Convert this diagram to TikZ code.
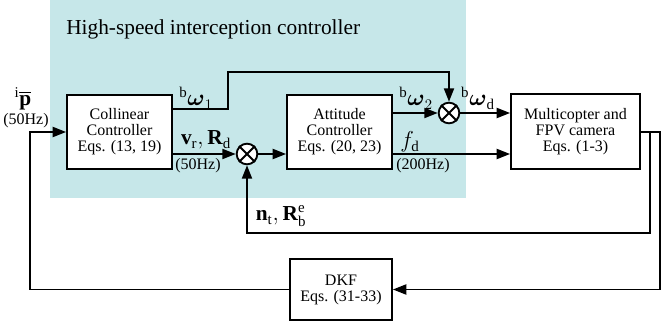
\documentclass[tikz,border=0pt]{standalone}
\usepackage{amsmath}
\usepackage{amssymb}
\usepackage{fontspec}
\setmainfont{Liberation Serif}
\usetikzlibrary{arrows.meta}
\definecolor{ctrlbg}{RGB}{198,231,233}

\tikzset{
  block/.style={draw, line width=1.4pt, fill=white, align=center, inner sep=0pt,
    font=\fontsize{12}{12}\selectfont},
  sumnode/.style={circle, draw, line width=1.4pt, fill=white, minimum size=15.5pt, inner sep=0pt},
  wire/.style={line width=1.4pt},
  sig/.style={-{Triangle[length=10pt, width=7.5pt]}},
  lbl/.style={inner sep=0pt, font=\fontsize{16}{16}\selectfont},
  rate/.style={inner sep=0pt, font=\fontsize{12}{12}\selectfont},
}

\begin{document}
\begin{tikzpicture}[x=0.75pt, y=-0.75pt]
  \useasboundingbox (0,0) rectangle (672,324);
  % controller background
  \fill[ctrlbg] (50,0) rectangle (466,198);
  \node[anchor=west, inner sep=0pt, font=\fontsize{16}{16}\selectfont] (title) at (66,29) {High-speed interception controller};

  % blocks
  \node[block, minimum width=78.75pt, minimum height=55.5pt] (coll) at (119.5,132) {Collinear\\Controller\\Eqs. (13, 19)};
  \node[block, minimum width=78.75pt, minimum height=55.5pt] (att) at (339.5,132) {Attitude\\Controller\\Eqs. (20, 23)};
  \node[block, minimum width=96.75pt, minimum height=56.25pt] (multi) at (575.5,131.5) {Multicopter and\\FPV camera\\Eqs. (1-3)};
  \node[block, minimum width=76.5pt, minimum height=45.75pt] (dkf) at (341,289.5) {DKF\\Eqs. (31-33)};

  % summing junctions
  \node[sumnode] (sum1) at (247,154) {};
  \node[sumnode] (sum2) at (449,113) {};
  \foreach \s in {sum1,sum2}
    \draw[line width=1.4pt] (\s.north west) -- (\s.south east) (\s.north east) -- (\s.south west);

  % bend points
  \coordinate (up1) at (228,109);
  \coordinate (up2) at (228,72);
  \coordinate (fb1) at (650,233);
  \coordinate (fb2) at (660,289.5);
  \coordinate (fb3) at (30,289.5);
  \coordinate (out) at (640,132);

  % connectors
  \draw[wire, sig] (coll.east |- up1) -- (up1) -- (up2) -| (sum2.north);
  \draw[wire, sig] (coll.east |- sum1) -- (sum1.west);
  \draw[wire, sig] (sum1.east) -- (att.west |- sum1);
  \draw[wire, sig] (att.east |- sum2) -- (sum2.west);
  \draw[wire, sig] (sum2.east) -- (multi.west |- sum2);
  \draw[wire, sig] (att.east |- sum1) -- (multi.west |- sum1);
  \draw[wire, sig] (out) -| (fb1) -| (sum1.south);
  \draw[wire, sig] (out) -| (fb2) -- (dkf.east);
  \draw[wire, sig] (dkf.west) -- (fb3) |- (coll.west);

  % signal labels
  \node[lbl] (pbar) at (23,99) {${}^{\mathrm{i}}\overline{\mathbf{p}}$};
  \node[rate] (r1) at (26,121) {(50Hz)};
  \node[lbl] (w1) at (196,98) {${}^{\mathrm{b}}\boldsymbol{\omega}_{1}$};
  \node[lbl] (vr) at (206,140) {$\mathbf{v}_{\mathrm{r}},\mathbf{R}_{\mathrm{d}}$};
  \node[rate] (r2) at (198,166) {(50Hz)};
  \node[lbl] (w2) at (416,98) {${}^{\mathrm{b}}\boldsymbol{\omega}_{2}$};
  \node[lbl] (wd) at (478,98) {${}^{\mathrm{b}}\boldsymbol{\omega}_{\mathrm{d}}$};
  \node[lbl] (fd) at (410,142) {$f_{\mathrm{d}}$};
  \node[rate] (r3) at (423,166) {(200Hz)};
  \node[lbl] (nt) at (281,216) {$\mathbf{n}_{\mathrm{t}},\mathbf{R}_{\mathrm{b}}^{\mathrm{e}}$};
\end{tikzpicture}
\end{document}
